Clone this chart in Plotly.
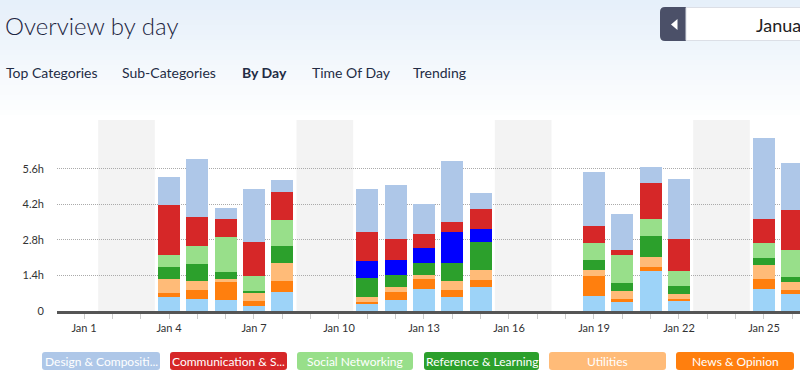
import plotly.graph_objects as go

# ---------------- data ----------------
days = ["2021-01-04", "2021-01-05", "2021-01-06", "2021-01-07", "2021-01-08",
        "2021-01-11", "2021-01-12", "2021-01-13", "2021-01-14", "2021-01-15",
        "2021-01-19", "2021-01-20", "2021-01-21", "2021-01-22",
        "2021-01-25", "2021-01-26"]

bottom_sky = [0.55, 0.46, 0.45, 0.20, 0.75, 0.29, 0.42, 0.87, 0.55, 0.93, 0.60, 0.37, 1.59, 0.39, 0.85, 0.66]
news       = [0.17, 0.38, 0.68, 0.21, 0.45, 0.05, 0.32, 0.38, 0.29, 0.28, 0.78, 0.10, 0.15, 0.10, 0.42, 0.18]
utilities  = [0.54, 0.34, 0.14, 0.33, 0.68, 0.21, 0.22, 0.18, 0.34, 0.42, 0.24, 0.31, 0.40, 0.17, 0.54, 0.29]
reference  = [0.49, 0.66, 0.28, 0.04, 0.68, 0.76, 0.45, 0.45, 0.73, 1.09, 0.40, 0.34, 0.83, 0.33, 0.29, 0.22]
blue_cat   = [0, 0, 0, 0, 0, 0.67, 0.60, 0.59, 1.22, 0.53, 0, 0, 0, 0, 0, 0]
social     = [0.47, 0.71, 1.37, 0.59, 1.03, 0, 0, 0, 0, 0, 0.67, 1.07, 0.67, 0.57, 0.57, 1.07]
communication = [1.96, 1.16, 0.71, 1.36, 1.09, 1.14, 0.84, 0.55, 0.38, 0.76, 0.65, 0.20, 1.42, 1.28, 0.97, 1.56]
design     = [1.09, 2.30, 0.42, 2.09, 0.49, 1.69, 2.13, 1.19, 2.40, 0.65, 2.15, 1.42, 0.62, 2.35, 3.19, 1.87]

weekend_starts = ["2021-01-01 12:00", "2021-01-08 12:00", "2021-01-15 12:00", "2021-01-22 12:00"]
weekend_ends   = ["2021-01-03 12:00", "2021-01-10 12:00", "2021-01-17 12:00", "2021-01-24 12:00"]

y_tickvals = [0, 1.4, 2.8, 4.2, 5.6]
y_ticktext = ["0", "1.4h", "2.8h", "4.2h", "5.6h"]

legend_labels = ["Design & Compositi...", "Communication & S...", "Social Networking",
                 "Reference & Learning", "Utilities", "News & Opinion"]
tabs = ["Top Categories", "Sub-Categories", "By Day", "Time Of Day", "Trending"]

# ---------------- styling ----------------
C_SKY = "#9dd3f8"
C_NEWS = "#ff7f0e"
C_UTIL = "#ffbb78"
C_REF = "#2ca02c"
C_BLUE = "#0000ff"
C_SOC = "#98df8a"
C_COMM = "#d62728"
C_DES = "#aec7e8"
legend_colors = [C_DES, C_COMM, C_SOC, C_REF, C_UTIL, C_NEWS]

W, H = 800, 385
L, R, T, B = 57, 0, 120, 74
PW, PH = W - L - R, H - T - B


def px(x):
    return (x - L) / PW


def py(y):
    return (H - B - y) / PH


FONT = "Lato, 'Open Sans', sans-serif"

fig = go.Figure()
series = [("Other", bottom_sky, C_SKY), ("News & Opinion", news, C_NEWS),
          ("Utilities", utilities, C_UTIL), ("Reference & Learning", reference, C_REF),
          ("Software Development", blue_cat, C_BLUE), ("Social Networking", social, C_SOC),
          ("Communication & Scheduling", communication, C_COMM),
          ("Design & Composition", design, C_DES)]
for name, vals, col in series:
    fig.add_trace(go.Bar(x=days, y=vals, name=name, marker=dict(color=col, line=dict(width=0)),
                         width=0.787 * 86400000, showlegend=False))

shapes = []
# background gradient at top
n = 24
top = (230, 240, 250)
for i in range(n):
    f = i / (n - 1)
    c = tuple(int(top[k] + (255 - top[k]) * f) for k in range(3))
    shapes.append(dict(type="rect", xref="paper", yref="paper", x0=px(0), x1=px(W),
                       y0=py(i * 5), y1=py(i * 5 + 5.5), fillcolor="rgb(%d,%d,%d)" % c,
                       line=dict(width=0), layer="below"))
# weekend bands
for s, e in zip(weekend_starts, weekend_ends):
    shapes.append(dict(type="rect", xref="x", yref="paper", x0=s, x1=e, y0=0, y1=1,
                       fillcolor="#f3f3f3", line=dict(width=0), layer="below"))


def rrect(x0, y0, x1, y1, r):
    X0, X1 = px(x0), px(x1)
    return ("M {a},{b} L {c},{b} Q {d},{b} {d},{e} L {d},{f} Q {d},{g} {c},{g} "
            "L {a},{g} Q {h},{g} {h},{f} L {h},{e} Q {h},{b} {a},{b} Z").format(
        a=px(x0 + r), b=py(y0), c=px(x1 - r), d=X1, e=py(y0 + r), f=py(y1 - r),
        g=py(y1), h=X0)


# date picker box
shapes.append(dict(type="path", xref="paper", yref="paper", path=rrect(660, 7, 700, 41, 5),
                   fillcolor="#4b5068", line=dict(width=0), layer="above"))
shapes.append(dict(type="rect", xref="paper", yref="paper", x0=px(686), x1=px(820),
                   y0=py(7.5), y1=py(40.5), fillcolor="white",
                   line=dict(color="#dcdfe6", width=1), layer="above"))
shapes.append(dict(type="path", xref="paper", yref="paper",
                   path="M {},{} L {},{} L {},{} Z".format(px(677.5), py(19), px(671), py(24.5), px(677.5), py(30)),
                   fillcolor="white", line=dict(width=0), layer="above"))

annotations = []
# legend boxes
legend_x = [(42, 160), (170, 287), (297, 413), (424, 539), (549, 666), (676, 794)]
for (x0, x1), lab, col in zip(legend_x, legend_labels, legend_colors):
    shapes.append(dict(type="path", xref="paper", yref="paper", path=rrect(x0, 352, x1, 370, 3),
                       fillcolor=col, line=dict(width=0), layer="above"))
    annotations.append(dict(xref="paper", yref="paper", x=px((x0 + x1) / 2), y=py(361.5),
                            text=lab, showarrow=False, xanchor="center", yanchor="middle",
                            font=dict(family=FONT, size=12, color="white")))

annotations.append(dict(xref="paper", yref="paper", x=px(3), y=py(25), text="Overview by day",
                        showarrow=False, xanchor="left", yanchor="middle",
                        font=dict(family=FONT, size=24, color="#1c2541", weight=300)))
tab_x = [4, 120, 240, 310, 411]
for t, x in zip(tabs, tab_x):
    txt = "<b>%s</b>" % t if t == "By Day" else t
    annotations.append(dict(xref="paper", yref="paper", x=px(x), y=py(72), text=txt,
                            showarrow=False, xanchor="left", yanchor="middle",
                            font=dict(family=FONT, size=14, color="#232c45")))
annotations.append(dict(xref="paper", yref="paper", x=px(754), y=py(25), text="January 2021",
                        showarrow=False, xanchor="left", yanchor="middle",
                        font=dict(family=FONT, size=18, color="#222222")))

fig.update_layout(
    width=W, height=H, margin=dict(l=L, r=R, t=T, b=B, pad=0),
    paper_bgcolor="white", plot_bgcolor="white",
    barmode="stack", shapes=shapes, annotations=annotations,
    font=dict(family=FONT, color="#333333", size=11),
    xaxis=dict(type="date", range=["2020-12-31 01:08", "2021-01-26 06:30"],
               tick0="2021-01-01", dtick=3 * 86400000, tickformat="%b %-d",
               ticks="outside", ticklen=5, tickcolor="#cccccc", tickwidth=1,
               minor=dict(dtick=86400000, tick0="2021-01-01", ticks="outside", ticklen=5,
                          tickcolor="#cccccc", showgrid=False),
               showgrid=False, showline=True, linecolor="#555555", linewidth=3,
               tickfont=dict(size=11, color="#333333"), fixedrange=True),
    yaxis=dict(range=[0, 7.53], tickvals=y_tickvals, ticktext=y_ticktext,
               showgrid=True, gridcolor="#aaaaaa", griddash="1px,1px", gridwidth=1,
               zeroline=False, showline=False, ticks="", ticklabelstandoff=12,
               tickfont=dict(size=11, color="#333333"), fixedrange=True),
)

fig.write_html("out.html", config={"displayModeBar": False},
               post_script="document.body.style.margin='0';document.body.style.overflow='hidden';")
